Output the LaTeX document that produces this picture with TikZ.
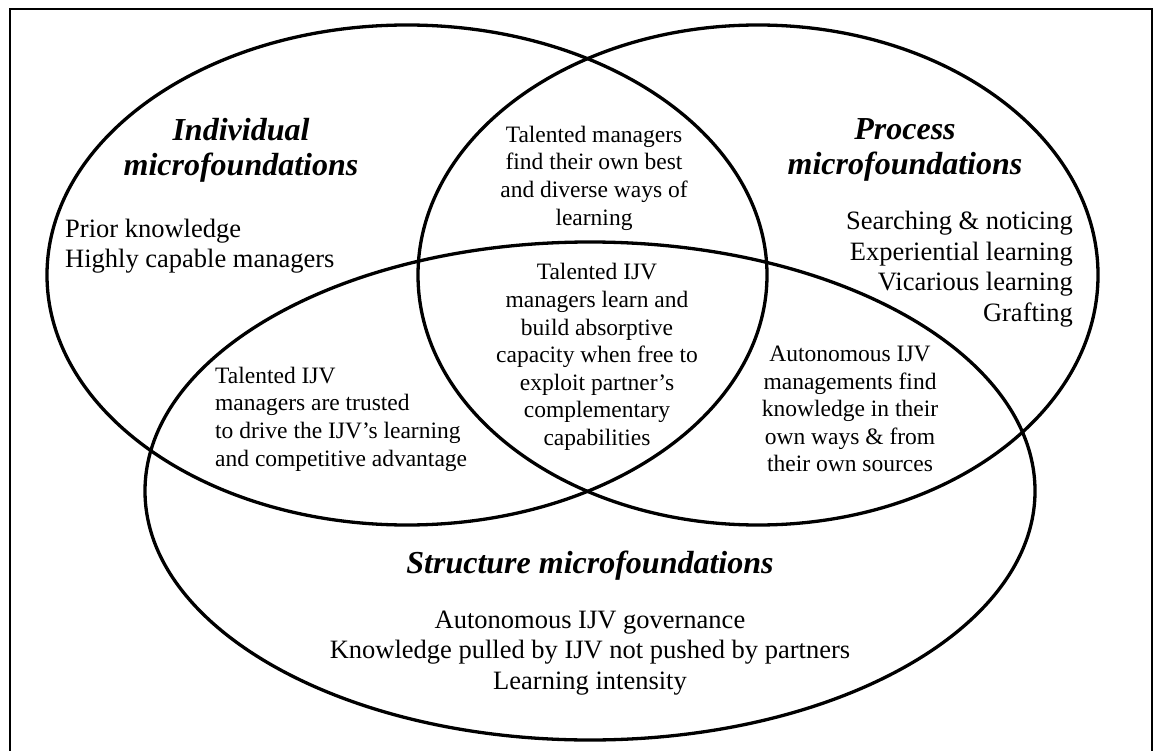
\documentclass[tikz,border=0pt]{standalone}
\usepackage{fontspec}
\setmainfont{Liberation Serif}
\begin{document}
\begin{tikzpicture}[x=1pt,y=-1pt,
  venn/.style={line width=3.3pt},
  frame/.style={line width=2pt},
  title/.style={font=\fontsize{32}{35}\selectfont\bfseries\itshape, align=center, inner sep=0pt},
  listtxt/.style={font=\fontsize{26.5}{30.5}\selectfont, inner sep=0pt},
  small/.style={font=\fontsize{23.5}{27.6}\selectfont, inner sep=0pt}]
\useasboundingbox (0,0) rectangle (1158,751);
% frame
\draw[frame] (10,9) rectangle (1152,758);
% ellipses
\draw[venn] (407,275) ellipse [x radius=360pt, y radius=250pt];
\draw[venn] (758,275) ellipse [x radius=340pt, y radius=250pt];
\draw[venn] (590,491) ellipse [x radius=445pt, y radius=249pt];
% titles
\node[title] (indT) at (241,150) {Individual\\microfoundations};
\node[title] (procT) at (905,150) {Process\\microfoundations};
\node[title] (strT) at (590,566) {Structure microfoundations};
% lists
\node[listtxt, align=left, anchor=west] (indL) at (65,246) {Prior knowledge\\Highly capable managers};
\node[listtxt, align=right, anchor=east] (procL) at (1073,269) {Searching \& noticing\\Experiential learning\\Vicarious learning\\Grafting};
\node[listtxt, align=center] (strL) at (590,653) {Autonomous IJV governance\\Knowledge pulled by IJV not pushed by partners\\Learning intensity};
% intersections
\node[small, align=center] (ip) at (594,178) {Talented managers\\find their own best\\and diverse ways of\\learning};
\node[small, align=center] (ips) at (597,357) {Talented IJV\\managers learn and\\build absorptive\\capacity when free to\\exploit partner’s\\complementary\\capabilities};
\node[small, align=left, anchor=west] (is) at (215,419) {Talented IJV\\managers are trusted\\to drive the IJV’s learning\\and competitive advantage};
\node[small, align=center] (ps) at (850,409) {Autonomous IJV\\managements find\\knowledge in their\\own ways \& from\\their own sources};
\end{tikzpicture}
\end{document}
